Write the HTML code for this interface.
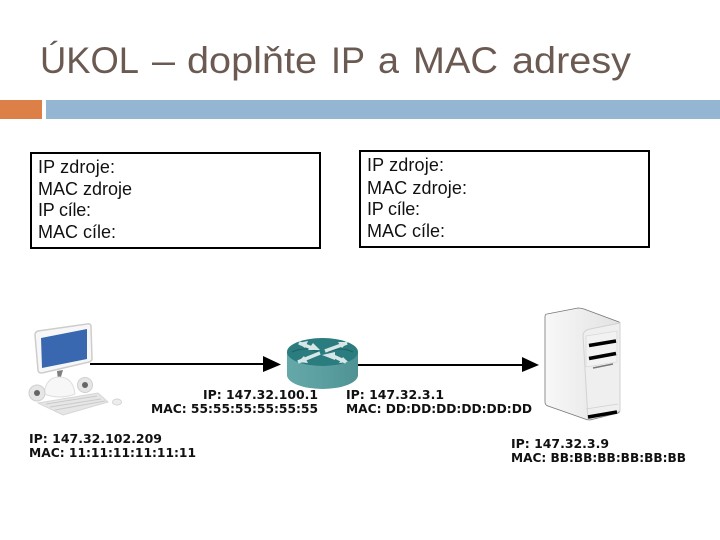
<!DOCTYPE html>
<html>
<head>
<meta charset="utf-8">
<style>
html,body{margin:0;padding:0;background:#fff;width:720px;height:540px;overflow:hidden}
svg{display:block}
.b{font-family:"DejaVu Sans","Liberation Sans",sans-serif;font-weight:bold;font-size:12.5px;fill:#111}
.t{font-family:"Liberation Sans",sans-serif;font-size:18px;fill:#111}
.h{font-family:"Liberation Sans",sans-serif;font-size:37px;fill:#6b5a52}
</style>
</head>
<body>
<svg width="720" height="540" viewBox="0 0 720 540" xmlns="http://www.w3.org/2000/svg">
<defs>
<linearGradient id="srv" x1="0" y1="0" x2="1" y2="0"><stop offset="0" stop-color="#f8f8f8"/><stop offset="1" stop-color="#e2e2e2"/></linearGradient>
<linearGradient id="rt" x1="0" y1="0" x2="1" y2="0"><stop offset="0" stop-color="#65a8aa"/><stop offset="0.5" stop-color="#5c9fa1"/><stop offset="1" stop-color="#4f9294"/></linearGradient>
</defs>
<rect width="720" height="540" fill="#fff"/>
<text class="h" x="40" y="73" textLength="99" lengthAdjust="spacingAndGlyphs">ÚKOL</text>
<text class="h" x="152" y="73" textLength="23" lengthAdjust="spacingAndGlyphs">–</text>
<text class="h" x="187" y="73" textLength="130" lengthAdjust="spacingAndGlyphs">doplňte</text>
<text class="h" x="331" y="73" textLength="34" lengthAdjust="spacingAndGlyphs">IP</text>
<text class="h" x="378" y="73" textLength="21" lengthAdjust="spacingAndGlyphs">a</text>
<text class="h" x="413" y="73" textLength="85" lengthAdjust="spacingAndGlyphs">MAC</text>
<text class="h" x="512" y="73" textLength="119" lengthAdjust="spacingAndGlyphs">adresy</text>
<rect x="0" y="100" width="42" height="19" fill="#dd8047"/>
<rect x="46" y="100" width="674" height="19" fill="#94b6d2"/>

<rect x="31" y="153" width="289" height="95" fill="#fff" stroke="#000" stroke-width="2"/>
<text class="t" x="38" y="173" textLength="77">IP zdroje:</text>
<text class="t" x="38" y="195" textLength="94">MAC zdroje</text>
<text class="t" x="38" y="216" textLength="53">IP cíle:</text>
<text class="t" x="38" y="238" textLength="78">MAC cíle:</text>

<rect x="360" y="151" width="289" height="96" fill="#fff" stroke="#000" stroke-width="2"/>
<text class="t" x="367" y="171" textLength="77">IP zdroje:</text>
<text class="t" x="367" y="194" textLength="100">MAC zdroje:</text>
<text class="t" x="367" y="215" textLength="53">IP cíle:</text>
<text class="t" x="367" y="237" textLength="78">MAC cíle:</text>

<!-- computer -->
<path d="M38,331 L87,324 Q91,323 91,327 L92,359 Q92,361 89,362 L42,373 Q38,373 38,370 L35,335 Q35,332 38,331 Z" fill="#f7f7f7" stroke="#cdcdcd" stroke-width="1.500"/>
<polygon points="41,338 87,329 87,359 42,368" fill="#3a68b0"/>
<polygon points="57,371 63,370 60,380 58,380" fill="#7f7f7f"/>
<path d="M44,394 Q46,377 59,377 Q73,377 75,394 Q60,400 44,394 Z" fill="#f7f7f7" stroke="#dedede"/>
<circle cx="85" cy="385" r="7.500" fill="#e6e6e6" stroke="#cfcfcf"/>
<circle cx="85" cy="385" r="3" fill="#666"/>
<circle cx="37" cy="393" r="8" fill="#e6e6e6" stroke="#cfcfcf"/>
<circle cx="37" cy="393" r="3" fill="#666"/>
<polygon points="38,403 98,393 108,402 63,415" fill="#e6e6e6" stroke="#d6d6d6"/>
<g stroke="#cacaca" stroke-width="1">
<line x1="46" y1="404" x2="97" y2="396"/><line x1="50" y1="407" x2="101" y2="399"/><line x1="55" y1="410" x2="105" y2="401"/>
</g>
<ellipse cx="117" cy="402" rx="4.500" ry="3" fill="#ededed" stroke="#d4d4d4"/>

<!-- connectors -->
<line x1="90" y1="364" x2="266" y2="364" stroke="#000" stroke-width="2"/>
<polygon points="263,356 281,364.500 263,372" fill="#000"/>
<line x1="358" y1="365" x2="524" y2="365" stroke="#000" stroke-width="2"/>
<polygon points="522,357 539,365 522,372" fill="#000"/>

<!-- router -->
<path d="M287,352 V375 A35.500,14 0 0 0 358,375 V352 Z" fill="url(#rt)"/>
<ellipse cx="322.500" cy="352" rx="35.500" ry="14" fill="#2a7c7e"/>
<path d="M292,352 Q305,346 318,352 M328,352 Q341,346 353,352" stroke="#1b6062" stroke-width="1" fill="none"/>
<g stroke="#d7e7e7" stroke-width="3.500" fill="none">
<line x1="299" y1="343" x2="312" y2="348"/>
<line x1="347" y1="343" x2="325" y2="351"/>
<line x1="320" y1="353" x2="298" y2="362"/>
<line x1="333" y1="356" x2="346" y2="362"/>
</g>
<g fill="#d7e7e7">
<polygon points="308,350 320,350 313,343"/>
<polygon points="322,355 335,352 335,360"/>
<polygon points="298,343 308,341 305,348"/>
<polygon points="348,342 338,342 342,348"/>
<polygon points="298,362 308,363 304,356"/>
<polygon points="348,362 339,363 343,357"/>
</g>

<!-- server -->
<path d="M547,314 L578,308 Q581,308 584,309 L619,322 Q620,323 620,326 V410 Q620,412 618,413 L590,420 Q587,420 585,419 L548,406 Q545,405 545,402 V317 Q545,314 547,314 Z" fill="url(#srv)" stroke="#777" stroke-width="0.800"/>
<path d="M583,335 Q584,330 590,329 L620,323 V411 L588,419 Z" fill="#efefef" stroke="#d2d2d2"/>
<polygon points="586,336 617,331 617,362 586,367" fill="#f2f2f2" stroke="#d8d8d8" stroke-width="0.700"/>
<line x1="589" y1="345.500" x2="616" y2="341" stroke="#000" stroke-width="3.500"/>
<line x1="589" y1="358.500" x2="616" y2="353.500" stroke="#000" stroke-width="3.500"/>
<line x1="593" y1="368" x2="613" y2="364" stroke="#777" stroke-width="1.500"/>
<line x1="586" y1="409" x2="618" y2="404" stroke="#d0d0d0" stroke-width="0.800"/>
<line x1="588" y1="417" x2="617" y2="412" stroke="#000" stroke-width="3.500"/>

<!-- address labels -->
<text class="b" x="29" y="443" textLength="133" lengthAdjust="spacingAndGlyphs">IP: 147.32.102.209</text>
<text class="b" x="29" y="457" textLength="167" lengthAdjust="spacingAndGlyphs">MAC: 11:11:11:11:11:11</text>
<text class="b" x="203" y="399" textLength="115" lengthAdjust="spacingAndGlyphs">IP: 147.32.100.1</text>
<text class="b" x="151" y="413" textLength="167" lengthAdjust="spacingAndGlyphs">MAC: 55:55:55:55:55:55</text>
<text class="b" x="346" y="399" textLength="98" lengthAdjust="spacingAndGlyphs">IP: 147.32.3.1</text>
<text class="b" x="346" y="413" textLength="186" lengthAdjust="spacingAndGlyphs">MAC: DD:DD:DD:DD:DD:DD</text>
<text class="b" x="511" y="448" textLength="98" lengthAdjust="spacingAndGlyphs">IP: 147.32.3.9</text>
<text class="b" x="511" y="462" textLength="175" lengthAdjust="spacingAndGlyphs">MAC: BB:BB:BB:BB:BB:BB</text>
</svg>
</body>
</html>
